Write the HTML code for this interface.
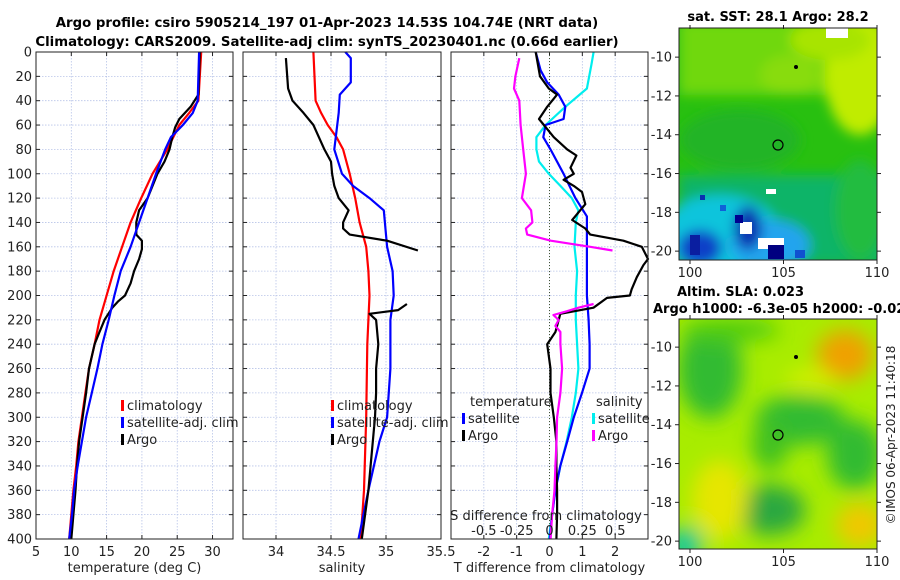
<!DOCTYPE html>
<html><head><meta charset="utf-8"><style>
html,body{margin:0;padding:0;background:#fff;}
svg{display:block;font-family:"DejaVu Sans","Liberation Sans",sans-serif;}
</style></head><body>
<svg id="fig" width="900" height="580" viewBox="0 0 900 580" xmlns="http://www.w3.org/2000/svg">
<defs>
<filter id="blur1" x="-20%" y="-20%" width="140%" height="140%"><feGaussianBlur stdDeviation="6"/></filter>
<filter id="blur2" x="-20%" y="-20%" width="140%" height="140%"><feGaussianBlur stdDeviation="10"/></filter>
<clipPath id="clipm1"><rect x="679" y="28" width="198" height="232"/></clipPath>
<clipPath id="clipm2"><rect x="679" y="319" width="198" height="230"/></clipPath>
</defs>
<text x="327" y="27" text-anchor="middle" font-size="13.3" font-weight="bold">Argo profile: csiro 5905214_197 01-Apr-2023 14.53S 104.74E (NRT data)</text>
<text x="327" y="46" text-anchor="middle" font-size="13.3" font-weight="bold">Climatology: CARS2009. Satellite-adj clim: synTS_20230401.nc (0.66d earlier)</text>

<!-- SST map -->
<g clip-path="url(#clipm1)">
<rect x="679" y="28" width="198" height="232" fill="#28c010"/>
<g filter="url(#blur1)">
<rect x="679" y="20" width="210" height="75" fill="#70d808"/>
<ellipse cx="860" cy="75" rx="35" ry="60" fill="#c0ec00"/>
<ellipse cx="830" cy="40" rx="40" ry="20" fill="#a8e400"/>
<ellipse cx="790" cy="75" rx="30" ry="20" fill="#88dc08"/>
<ellipse cx="740" cy="140" rx="60" ry="30" fill="#20b428"/>
<rect x="679" y="175" width="210" height="90" fill="#08b468"/>
<ellipse cx="720" cy="235" rx="60" ry="40" fill="#10c4dc"/>
<ellipse cx="770" cy="245" rx="40" ry="25" fill="#20a4ee"/>
<ellipse cx="700" cy="248" rx="22" ry="18" fill="#0840c8"/>
<ellipse cx="748" cy="228" rx="14" ry="22" fill="#0a30b0"/>
<ellipse cx="860" cy="210" rx="25" ry="50" fill="#20bc40"/>
</g>
<rect x="740" y="222" width="12" height="12" fill="#fff"/>
<rect x="758" y="238" width="26" height="11" fill="#fff"/>
<rect x="766" y="189" width="10" height="5" fill="#fff"/>
<rect x="768" y="245" width="16" height="14" fill="#000080"/>
<rect x="690" y="235" width="10" height="20" fill="#0a1ea0"/>
<rect x="735" y="215" width="8" height="8" fill="#000090"/>
<rect x="700" y="195" width="5" height="5" fill="#0a30b0"/>
<rect x="720" y="205" width="6" height="6" fill="#1060d8"/>
<rect x="795" y="250" width="10" height="8" fill="#1050d0"/>
<rect x="826" y="28" width="22" height="10" fill="#fff"/>
</g>
<rect x="679" y="28" width="198" height="232" fill="none" stroke="#222" stroke-width="1"/>
<text x="778" y="21" text-anchor="middle" font-size="13" font-weight="bold">sat. SST: 28.1 Argo: 28.2</text>
<circle cx="778" cy="145" r="5" fill="none" stroke="#000" stroke-width="1.2"/>
<circle cx="796" cy="67" r="2" fill="#000"/>

<!-- SLA map -->
<g clip-path="url(#clipm2)">
<rect x="679" y="319" width="198" height="230" fill="#a8ec00"/>
<g filter="url(#blur2)">
<ellipse cx="710" cy="370" rx="32" ry="48" fill="#30bb30"/>
<ellipse cx="800" cy="420" rx="45" ry="25" fill="#30bb30"/>
<ellipse cx="770" cy="445" rx="18" ry="25" fill="#40c020"/>
<ellipse cx="855" cy="455" rx="28" ry="35" fill="#30bb30"/>
<ellipse cx="770" cy="510" rx="35" ry="25" fill="#2aa840"/>
<ellipse cx="730" cy="330" rx="50" ry="12" fill="#50cc10"/>
<ellipse cx="845" cy="355" rx="28" ry="25" fill="#f0a000"/>
<ellipse cx="720" cy="500" rx="28" ry="40" fill="#e6e600"/>
<ellipse cx="860" cy="525" rx="24" ry="22" fill="#f0c800"/>
<ellipse cx="685" cy="545" rx="18" ry="18" fill="#10c8a0"/>
<ellipse cx="810" cy="380" rx="25" ry="12" fill="#d0f000"/>
</g>
</g>
<rect x="679" y="319" width="198" height="230" fill="none" stroke="#222" stroke-width="1"/>
<text x="677" y="296" font-size="13" font-weight="bold">Altim. SLA: 0.023</text>
<text x="653" y="313" font-size="13" font-weight="bold">Argo h1000: -6.3e-05 h2000: -0.02</text>
<circle cx="778" cy="435" r="5" fill="none" stroke="#000" stroke-width="1.2"/>
<circle cx="796" cy="357" r="2" fill="#000"/>
<text transform="translate(895,435) rotate(-90)" text-anchor="middle" font-size="12" fill="#222">©IMOS 06-Apr-2023 11:40:18</text>
</svg>
<script>
// ---- data (depth in dbar) ----
const depthClim = [0,40,50,60,80,100,120,140,160,180,200,220,240,260,280,300,320,340,360,380,400];
const tempClim = [28.4,28.0,26.7,25.3,23.6,21.5,19.9,18.4,17.2,16.0,15.0,14.0,13.3,12.5,12.0,11.5,11.0,10.7,10.3,10.0,9.7];
const depthSat = [0,40,50,60,70,80,100,120,140,160,180,200,220,240,260,280,300,320,340,360,380,400];
const tempSat = [28.1,27.9,27.2,25.8,24.1,23.3,22.0,20.8,19.6,18.4,17.0,16.1,15.3,14.4,13.7,12.9,12.1,11.5,10.9,10.4,10.1,9.7];
const depthArgoT = [0,35,45,55,62,70,80,90,100,110,120,130,140,150,155,162,170,180,190,200,205,210,220,230,240,260,280,300,320,340,360,380,400];
const tempArgo = [28.2,28.0,26.9,25.3,24.7,24.3,23.9,23.2,22.2,21.5,20.8,19.6,19.2,19.2,20.0,20.0,19.6,18.9,18.4,17.6,16.6,15.8,14.7,14.0,13.3,12.5,12.1,11.6,11.1,10.8,10.6,10.3,10.0];

const depthSalClim = [0,40,50,60,70,80,100,120,140,160,180,200,220,240,300,360,400];
const salClim = [34.34,34.36,34.41,34.47,34.55,34.61,34.67,34.72,34.76,34.82,34.84,34.85,34.84,34.83,34.82,34.80,34.77];
const depthSalSat = [0,5,25,35,50,80,100,110,120,130,160,180,200,220,260,300,320,340,360,400];
const salSat = [34.63,34.68,34.68,34.58,34.57,34.53,34.60,34.70,34.85,34.98,35.01,35.06,35.07,35.04,35.04,35.01,34.94,34.89,34.84,34.75];
const depthSalArgo = [5,30,40,50,60,80,90,100,110,120,130,140,145,150,155,163,null,207,212,215,220,240,260,280,300,320,340,360,400];
const salArgo = [34.09,34.11,34.15,34.25,34.34,34.44,34.50,34.51,34.53,34.57,34.66,34.61,34.61,34.67,35.01,35.29,null,35.19,35.11,34.85,34.91,34.93,34.91,34.91,34.90,34.88,34.86,34.84,34.78];

const depthDT = [0,20,30,35,45,55,60,70,80,85,95,100,105,110,115,125,138,145,150,155,160,170,175,185,195,200,202,210,215,220,230,240,260,280,300,320,340,360,380,400];
const dTArgo = [-0.42,-0.29,-0.02,0.23,-0.07,-0.32,-0.17,0.13,0.54,0.82,0.64,0.74,0.43,0.74,0.99,1.09,0.69,1.09,1.24,2.25,2.81,3.0,2.86,2.66,2.5,2.45,1.75,1.34,0.33,0.28,0.18,-0.07,0.03,0.03,0.13,0.21,0.21,0.23,0.23,0.21];
const depthDTSat = [0,15,25,35,45,55,60,70,80,100,120,135,140,160,180,200,220,240,260,280,300,320,340,360,380,400];
const dTSat = [-0.42,-0.27,-0.07,0.28,0.48,0.43,-0.12,-0.19,0.03,0.43,0.79,1.14,1.14,1.14,1.14,1.14,1.19,1.22,1.22,0.99,0.74,0.54,0.33,0.18,0.08,0.01];
const depthDS = [0,10,30,45,60,70,80,90,100,110,120,130,140,160,180,200,220,240,260,280,300,320,340,360,380,400];
const dSSat = [0.336,0.32,0.285,0.12,-0.03,-0.10,-0.10,-0.08,-0.005,0.083,0.17,0.22,0.20,0.19,0.21,0.20,0.20,0.21,0.22,0.20,0.17,0.13,0.083,0.045,0.02,-0.005];
const depthDSArgo = [5,20,30,40,60,80,100,120,130,140,145,150,155,160,163,null,207,210,213,216,220,225,230,240,260,280,300,320,340,360,380,400];
const dSArgo = [-0.23,-0.26,-0.27,-0.23,-0.22,-0.20,-0.18,-0.21,-0.14,-0.13,-0.18,-0.17,0.01,0.31,0.48,null,0.336,0.22,0.13,0.03,0.07,0.045,0.083,0.083,0.096,0.083,0.058,0.053,0.045,0.038,0.02,0.008];

const depthTicks = [0,20,40,60,80,100,120,140,160,180,200,220,240,260,280,300,320,340,360,380,400];
const tempTicks = [5,10,15,20,25,30];
const salTicks = [34,34.5,35,35.5];
const salTickLabels = ["34","34.5","35","35.5"];
const dTTicks = [-2,-1,0,1,2];
const dSTicks = [-0.5,-0.25,0,0.25,0.5];
const mapLonTicks = [100,105,110];
const mapLatTicks = [-10,-12,-14,-16,-18,-20];

const NS = "http://www.w3.org/2000/svg";
const svg = document.getElementById('fig');
const Y0 = 52, Y1 = 539;
function yScale(d){ return Y0 + (d/400)*(Y1-Y0); }
function mk(tag, attrs, parent){
  const e = document.createElementNS(NS, tag);
  for (const k in attrs) e.setAttribute(k, attrs[k]);
  (parent||svg).appendChild(e); return e;
}
function txt(x,y,s,anchor,size,parent){
  const t = mk('text',{x:x,y:y,'text-anchor':anchor||'middle','font-size':size||12,fill:'#222'},parent);
  t.textContent = s; return t;
}

function panel(name, x0, x1, xmin, xmax, xticks, xlabels, xtitle, showY){
  const g = mk('g',{});
  
  
  const xs = v => x0 + (v-xmin)/(xmax-xmin)*(x1-x0);
  depthTicks.forEach(d=>{
    const l = mk('line',{x1:x0,x2:x1,y1:yScale(d),y2:yScale(d),stroke:'#b8c4e8','stroke-width':0.8,'stroke-dasharray':'1.5,1.5'},g);
    
    
    mk('line',{x1:x0,x2:x0+4,y1:yScale(d),y2:yScale(d),stroke:'#222'},g);
    mk('line',{x1:x1-4,x2:x1,y1:yScale(d),y2:yScale(d),stroke:'#222'},g);
    if (showY){
      const t = txt(x0-4, yScale(d)+4.5, String(d), 'end', 13, g);
      
      
    }
  });
  xticks.forEach((v,i)=>{
    const x = xs(v);
    const l = mk('line',{x1:x,x2:x,y1:Y0,y2:Y1,stroke:'#b8c4e8','stroke-width':0.8,'stroke-dasharray':'1.5,1.5'},g);
    
    
    mk('line',{x1:x,x2:x,y1:Y1,y2:Y1-4,stroke:'#222'},g);
    mk('line',{x1:x,x2:x,y1:Y0,y2:Y0+4,stroke:'#222'},g);
    const t = txt(x, 556, xlabels[i], 'middle', 13, g);
    
    
  });
  const tt = txt((x0+x1)/2, 572, xtitle, 'middle', 13, g);
  
  
  return {g, xs};
}
function line(p, depths, vals, color, name, w, conv){
  let dstr = '', pen = false;
  for (let i=0;i<depths.length;i++){
    if (depths[i]===null || vals[i]===null){ pen=false; continue; }
    const v = conv ? conv(vals[i]) : vals[i];
    dstr += (pen?'L':'M') + p.xs(v).toFixed(1) + ' ' + yScale(depths[i]).toFixed(1) + ' ';
    pen = true;
  }
  const e = mk('path',{d:dstr,fill:'none',stroke:color,'stroke-width':w||2.2,'stroke-linejoin':'round'},p.g);
  
  
}
function frame(p,x0,x1){
  const r = mk('rect',{x:x0,y:Y0,width:x1-x0,height:Y1-Y0,fill:'none',stroke:'#222','stroke-width':1},p.g);
  
  
}
function legend(p, x, y, items){
  items.forEach((it,i)=>{
    const yy = y + i*17;
    if (it.c){ mk('rect',{x:x,y:yy-10,width:3,height:11,fill:it.c},p.g); }
    const t = txt(x+(it.c?6:0), yy, it.t, 'start', 13, p.g);
    
    
  });
}

const p1 = panel('temperature-panel', 36, 233, 5, 32.9, tempTicks, tempTicks.map(String), 'temperature (deg C)', true);
line(p1, depthClim, tempClim, '#ff0000', 'temp-climatology-line');
line(p1, depthArgoT, tempArgo, '#000000', 'temp-argo-line');
line(p1, depthSat, tempSat, '#0000ff', 'temp-satellite-line');
frame(p1,36,233);
legend(p1, 121, 410, [{c:'#ff0000',t:'climatology'},{c:'#0000ff',t:'satellite-adj. clim'},{c:'#000',t:'Argo'}]);

const p2 = panel('salinity-panel', 243, 441, 33.7, 35.5, salTicks, salTickLabels, 'salinity', false);
line(p2, depthSalClim, salClim, '#ff0000', 'sal-climatology-line');
line(p2, depthSalSat, salSat, '#0000ff', 'sal-satellite-line');
line(p2, depthSalArgo, salArgo, '#000000', 'sal-argo-line');
frame(p2,243,441);
legend(p2, 331, 410, [{c:'#ff0000',t:'climatology'},{c:'#0000ff',t:'satellite-adj. clim'},{c:'#000',t:'Argo'}]);

const p3 = panel('difference-panel', 451, 648, -3, 3, dTTicks, dTTicks.map(String), 'T difference from climatology', false);
const zl = mk('line',{x1:p3.xs(0),x2:p3.xs(0),y1:Y0,y2:Y1,stroke:'#445533','stroke-width':1,'stroke-dasharray':'1,2'},p3.g);


const sConv = s => s*4;
line(p3, depthDS, dSSat, '#00eeee', 'dS-satellite-line', 2.2, sConv);
line(p3, depthDTSat, dTSat, '#0000ff', 'dT-satellite-line');
line(p3, depthDT, dTArgo, '#000000', 'dT-argo-line');
line(p3, depthDSArgo, dSArgo, '#ff00ff', 'dS-argo-line', 2.2, sConv);
frame(p3,451,648);
legend(p3, 470, 406, [{t:'temperature'}]);
legend(p3, 462, 423, [{c:'#0000ff',t:'satellite'},{c:'#000',t:'Argo'}]);
legend(p3, 596, 406, [{t:'salinity'}]);
legend(p3, 592, 423, [{c:'#00eeee',t:'satellite'},{c:'#ff00ff',t:'Argo'}]);
const st = txt(546, 520, 'S difference from climatology', 'middle', 13, p3.g);


dSTicks.forEach(v=>{
  const t = txt(p3.xs(sConv(v)), 535, String(v), 'middle', 13, p3.g);
  
  
});

function mapAxes(name, top, bottom, leftLabels){
  const g = mk('g',{});
  
  
  const lx = v => 690 + (v-100)*18.7;
  const ly = (v) => top + (-8.55 - v)*19.4;
  mapLonTicks.forEach(v=>{
    mk('line',{x1:lx(v),x2:lx(v),y1:bottom,y2:bottom+4,stroke:'#222'},g);
    mk('line',{x1:lx(v),x2:lx(v),y1:top,y2:top-4,stroke:'#222'},g);
    const t = txt(lx(v), bottom+17, String(v), 'middle', 13, g);
    
    
  });
  mapLatTicks.forEach(v=>{
    const y = ly(v);
    mk('line',{x1:675,x2:679,y1:y,y2:y,stroke:'#222'},g);
    mk('line',{x1:877,x2:881,y1:y,y2:y,stroke:'#222'},g);
    if (leftLabels){
      const t = txt(672, y+4.5, String(v), 'end', 13, g);
      
      
    }
  });
}
mapAxes('sst-map-axes', 29, 260, true);
mapAxes('sla-map-axes', 319, 549, true);
</script>
</body></html>
